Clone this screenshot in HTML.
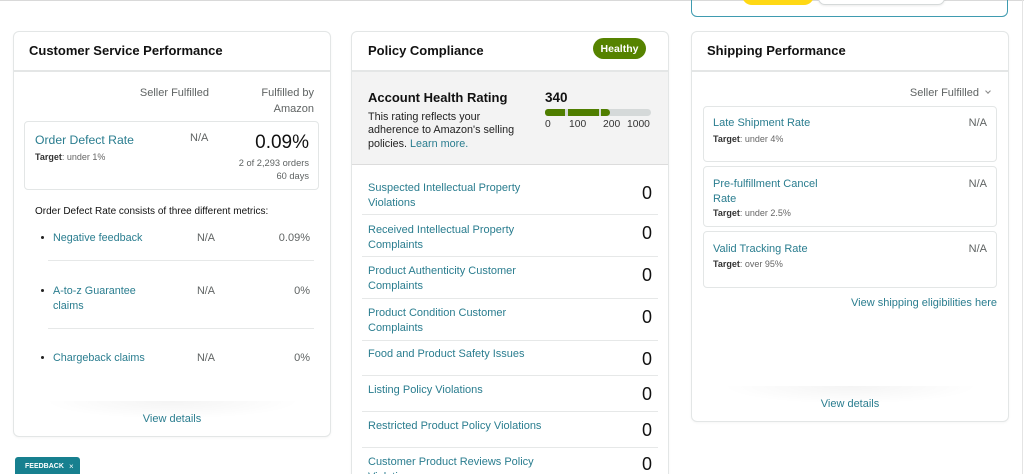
<!DOCTYPE html>
<html><head><meta charset="utf-8">
<style>
*{margin:0;padding:0;box-sizing:border-box}
html,body{width:1024px;height:474px;overflow:hidden;background:#fff}
#p{position:relative;width:1024px;height:474px;overflow:hidden;font-family:"Liberation Sans",Arial,sans-serif;color:#111}
.a{position:absolute}
.t{position:absolute;white-space:nowrap;line-height:16px;margin-top:1px}
.b{font-weight:bold}
.card{position:absolute;border:1px solid #e3e6e6;border-radius:6px;background:#fff;box-shadow:0 1px 2px rgba(0,0,0,0.04)}
.hd{position:absolute;height:2px;background:#e4e6e6;top:70px}
.lk{color:#2a7d8f}
.g{color:#5f6363}
.box{position:absolute;border:1px solid #e3e6e6;border-radius:4px;background:#fff}
.dv{position:absolute;height:1px;background:#e6e8e8}
.dot{position:absolute;width:3px;height:3px;border-radius:50%;background:#222}
.tg{font-size:9px;color:#666}
.tg b{color:#333}
.row{position:absolute;left:368px;font-size:11px;line-height:15px;color:#2a7d8f;white-space:nowrap;margin-top:1.5px}
.z{position:absolute;right:372px;font-size:18px;line-height:20px;color:#111;margin-top:1px}
.sh{position:absolute;height:24px;background:radial-gradient(ellipse 60% 100% at 50% 0%,rgba(0,0,0,0.045),rgba(0,0,0,0) 75%)}
</style></head><body>
<div id="p">
<!-- top elements -->
<div class="a" style="left:0;top:0;width:1024px;height:1px;background:#d9d9d9"></div>
<div class="a" style="left:691px;top:-12px;width:317px;height:29px;border:1.5px solid #3f9bb0;border-radius:6px"></div>
<div class="a" style="left:742px;top:-15px;width:72px;height:20px;background:#ffd814;border-radius:10px"></div>
<div class="a" style="left:818px;top:-15px;width:127px;height:20px;border:1px solid #d5d9d9;border-radius:7px;background:#fff;box-shadow:0 1px 2px rgba(0,0,0,0.08)"></div>
<div class="a" style="left:1022px;top:0;width:1px;height:474px;background:#e4e4e4"></div>

<!-- Card 1 -->
<div class="card" style="left:13px;top:31px;width:318px;height:406px"></div>
<div class="hd" style="left:14px;width:316px"></div>
<div class="t b" style="left:29px;top:42px;font-size:13px">Customer Service Performance</div>
<div class="t g" style="right:815px;top:84px;font-size:11px">Seller Fulfilled</div>
<div class="t g" style="right:710px;top:84px;font-size:11px">Fulfilled by</div>
<div class="t g" style="right:710px;top:100px;font-size:11px">Amazon</div>
<div class="box" style="left:24px;top:121px;width:295px;height:69px"></div>
<div class="t lk" style="left:35px;top:131px;font-size:12.2px">Order Defect Rate</div>
<div class="t tg" style="left:35px;top:148px"><b>Target</b>: under 1%</div>
<div class="t g" style="left:190px;top:129px;font-size:11px">N/A</div>
<div class="t" style="right:715px;top:131px;font-size:19px;line-height:22px">0.09%</div>
<div class="t g" style="right:715px;top:154px;font-size:9.3px">2 of 2,293 orders</div>
<div class="t g" style="right:715px;top:167px;font-size:9.3px">60 days</div>
<div class="t" style="left:35px;top:203px;font-size:10px">Order Defect Rate consists of three different metrics:</div>

<div class="dot" style="left:41px;top:236px"></div>
<div class="t lk" style="left:53px;top:229px;font-size:10.8px">Negative feedback</div>
<div class="t g" style="left:197px;top:229px;font-size:10.8px">N/A</div>
<div class="t g" style="right:714px;top:229px;font-size:11px">0.09%</div>
<div class="dv" style="left:48px;top:260px;width:266px"></div>

<div class="dot" style="left:41px;top:289px"></div>
<div class="t lk" style="left:53px;top:282px;font-size:10.8px">A-to-z Guarantee</div>
<div class="t lk" style="left:53px;top:297px;font-size:10.8px">claims</div>
<div class="t g" style="left:197px;top:282px;font-size:10.8px">N/A</div>
<div class="t g" style="right:714px;top:282px;font-size:11px">0%</div>
<div class="dv" style="left:48px;top:328px;width:266px"></div>

<div class="dot" style="left:41px;top:356px"></div>
<div class="t lk" style="left:53px;top:349px;font-size:10.8px">Chargeback claims</div>
<div class="t g" style="left:197px;top:349px;font-size:10.8px">N/A</div>
<div class="t g" style="right:714px;top:349px;font-size:11px">0%</div>

<div class="sh" style="left:30px;top:401px;width:285px"></div>
<div class="t lk" style="left:100px;width:144px;text-align:center;top:410px;font-size:11px">View details</div>

<div class="a" style="left:15px;top:457px;width:65px;height:22px;background:#17808f;border-radius:3px"></div>
<div class="t b" style="left:25px;top:458px;font-size:7px;color:#fff">FEEDBACK</div>
<div class="t" style="left:69px;top:458px;font-size:8px;color:#fff">×</div>

<!-- Card 2 -->
<div class="card" style="left:351px;top:31px;width:318px;height:450px"></div>
<div class="hd" style="left:352px;width:316px"></div>
<div class="t b" style="left:368px;top:42px;font-size:13px">Policy Compliance</div>
<div class="a" style="left:593px;top:38px;width:53px;height:21px;border-radius:11px;background:#568300;color:#fff;font-size:10.5px;font-weight:bold;line-height:22px;text-align:center">Healthy</div>
<div class="a" style="left:352px;top:72px;width:316px;height:93px;background:#f3f3f3;border-bottom:1px solid #dcdcdc"></div>
<div class="t b" style="left:368px;top:89px;font-size:13px">Account Health Rating</div>
<div class="a" style="left:368px;top:110.5px;font-size:10.8px;line-height:13.5px;color:#222;white-space:nowrap">This rating reflects your<br>adherence to Amazon's selling<br>policies. <span class="lk">Learn more.</span></div>
<div class="t b" style="left:545px;top:89px;font-size:13.5px">340</div>
<div class="a" style="left:545px;top:109px;width:106px;height:7px;border-radius:4px;background:#d5d9d9"></div>
<div class="a" style="left:545px;top:109px;width:20px;height:7px;border-radius:3px 0 0 3px;background:#4f7e00"></div>
<div class="a" style="left:568px;top:109px;width:31px;height:7px;background:#4f7e00"></div>
<div class="a" style="left:601px;top:109px;width:9px;height:7px;border-radius:0 4px 4px 0;background:#4f7e00"></div>
<div class="t" style="left:545px;top:116px;font-size:10.3px;color:#333">0</div>
<div class="t" style="left:569px;top:116px;font-size:10.3px;color:#333">100</div>
<div class="t" style="left:603px;top:116px;font-size:10.3px;color:#333">200</div>
<div class="t" style="left:627px;top:116px;font-size:10.3px;color:#333">1000</div>

<div class="row" style="top:179.2px">Suspected Intellectual Property<br>Violations</div>
<div class="z" style="top:181.7px">0</div>
<div class="dv" style="left:362px;top:214px;width:296px"></div>
<div class="row" style="top:221.2px">Received Intellectual Property<br>Complaints</div>
<div class="z" style="top:221.7px">0</div>
<div class="dv" style="left:362px;top:256px;width:296px"></div>
<div class="row" style="top:262.5px">Product Authenticity Customer<br>Complaints</div>
<div class="z" style="top:264.3px">0</div>
<div class="dv" style="left:362px;top:298px;width:296px"></div>
<div class="row" style="top:304.2px">Product Condition Customer<br>Complaints</div>
<div class="z" style="top:306px">0</div>
<div class="dv" style="left:362px;top:340px;width:296px"></div>
<div class="row" style="top:345.8px">Food and Product Safety Issues</div>
<div class="z" style="top:348.3px">0</div>
<div class="dv" style="left:362px;top:375px;width:296px"></div>
<div class="row" style="top:381.5px">Listing Policy Violations</div>
<div class="z" style="top:383.3px">0</div>
<div class="dv" style="left:362px;top:411px;width:296px"></div>
<div class="row" style="top:417.2px">Restricted Product Policy Violations</div>
<div class="z" style="top:419px">0</div>
<div class="dv" style="left:362px;top:447px;width:296px"></div>
<div class="row" style="top:453.2px;height:20px;overflow:hidden">Customer Product Reviews Policy<br>Violations</div>
<div class="z" style="top:453px">0</div>

<!-- Card 3 -->
<div class="card" style="left:691px;top:31px;width:318px;height:391px"></div>
<div class="hd" style="left:692px;width:316px"></div>
<div class="t b" style="left:707px;top:42px;font-size:13px">Shipping Performance</div>
<div class="t g" style="right:45px;top:84px;font-size:11px">Seller Fulfilled</div>
<div class="a" style="left:986px;top:89px;width:4px;height:4px;border-right:1px solid #888;border-bottom:1px solid #888;transform:rotate(45deg)"></div>

<div class="box" style="left:703px;top:106px;width:294px;height:56px"></div>
<div class="t lk" style="left:713px;top:114px;font-size:11px">Late Shipment Rate</div>
<div class="t g" style="right:37px;top:114px;font-size:11px">N/A</div>
<div class="t tg" style="left:713px;top:129.5px"><b>Target</b>: under 4%</div>

<div class="box" style="left:703px;top:166px;width:294px;height:61px"></div>
<div class="t lk" style="left:713px;top:174.5px;font-size:11px">Pre-fulfillment Cancel</div>
<div class="t lk" style="left:713px;top:189.5px;font-size:11px">Rate</div>
<div class="t g" style="right:37px;top:174.5px;font-size:11px">N/A</div>
<div class="t tg" style="left:713px;top:204px"><b>Target</b>: under 2.5%</div>

<div class="box" style="left:703px;top:231px;width:294px;height:57px"></div>
<div class="t lk" style="left:713px;top:239.5px;font-size:11px">Valid Tracking Rate</div>
<div class="t g" style="right:37px;top:239.5px;font-size:11px">N/A</div>
<div class="t tg" style="left:713px;top:255px"><b>Target</b>: over 95%</div>

<div class="t lk" style="right:27px;top:294px;font-size:11px">View shipping eligibilities here</div>
<div class="sh" style="left:708px;top:386px;width:285px"></div>
<div class="t lk" style="left:778px;width:144px;text-align:center;top:395px;font-size:11px">View details</div>
</div>
</body></html>
